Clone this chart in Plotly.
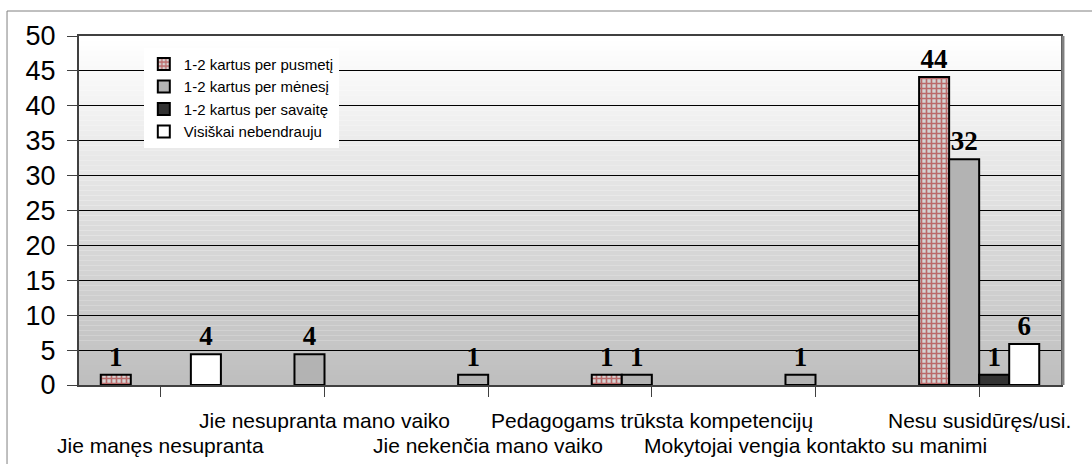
import plotly.graph_objects as go

categories = [
    "Jie manęs nesupranta",
    "Jie nesupranta mano vaiko",
    "Jie nekenčia mano vaiko",
    "Pedagogams trūksta kompetencijų",
    "Mokytojai vengia kontakto su manimi",
    "Nesu susidūręs/usi.",
]
series_names = [
    "1-2 kartus per pusmetį",
    "1-2 kartus per mėnesį",
    "1-2 kartus per savaitę",
    "Visiškai nebendrauju",
]
# percentages (labels shown rounded)
per_pusmeti = [1.47, None, None, 1.47, None, 44.12]
per_menesi = [None, 4.41, 1.47, 1.47, 1.47, 32.35]
per_savaite = [None, None, None, None, None, 1.47]
nebendrauju = [4.41, None, None, None, None, 5.88]
y_ticks = list(range(0, 51, 5))

series_values = [per_pusmeti, per_menesi, per_savaite, nebendrauju]
fill_colors = ["#d4d4d4", "#b3b3b3", "#333333", "#ffffff"]

fig = go.Figure()
for i, (name, vals) in enumerate(zip(series_names, series_values)):
    marker = dict(color=fill_colors[i], line=dict(color="black", width=2))
    if i == 0:
        marker["pattern"] = dict(shape="+", fgcolor="#a00000", bgcolor="#d4d4d4",
                                 size=5, solidity=0.55)
    fig.add_trace(go.Bar(
        x=categories, y=vals, name=name, marker=marker,
        legendgroup=name,
        texttemplate="%{y:.0f}", textposition="outside", constraintext="none",
        textfont=dict(family="Liberation Serif", size=27, color="black", weight="bold"),
        cliponaxis=False,
    ))

# vertical grey gradient behind the plot area
n_strips = 70
for k in range(n_strips):
    t = k / (n_strips - 1)
    g = int(round(255 - (255 - 190) * t))
    fig.add_shape(type="rect", xref="x domain", yref="y domain",
                  x0=0, x1=1, y0=1 - (k + 1) / n_strips, y1=1 - k / n_strips,
                  fillcolor=f"rgb({g},{g},{g})", line=dict(width=0), layer="below")

# shadow at the right of plot area
fig.add_shape(type="line", xref="x domain", yref="y domain", x0=1.002, x1=1.002,
              y0=0, y1=1, line=dict(color="#808080", width=3))
# outer chart border
fig.add_shape(type="rect", xref="paper", yref="paper", x0=-0.0733, x1=1.2,
              y0=-0.5, y1=1.0716, line=dict(color="#808080", width=1))

# two-row category labels
for i, cat in enumerate(categories):
    fig.add_annotation(x=cat, xref="x", yref="paper",
                       y=-0.172 if i % 2 == 0 else -0.1003,
                       text=cat, showarrow=False, yanchor="middle",
                       font=dict(family="Liberation Sans", size=21, color="black"))

fig.update_layout(
    width=1092, height=464,
    margin=dict(l=79, r=31, t=36, b=79),
    paper_bgcolor="white",
    plot_bgcolor="rgba(0,0,0,0)",
    barmode="group", bargap=0.266, bargroupgap=0,
    font=dict(family="Liberation Sans", color="black"),
    showlegend=True,
    legend=dict(
        x=0.066, y=0.966, xanchor="left", yanchor="top",
        bgcolor="white", borderwidth=0, tracegroupgap=4,
        itemwidth=30, traceorder="normal",
        font=dict(family="Liberation Sans", size=15, color="black"),
    ),
    xaxis=dict(
        type="category", range=[-0.5, len(categories) - 0.5], autorange=False,
        showticklabels=False, ticks="outside", ticklen=10,
        tickcolor="#404040", showline=True, linecolor="#404040", linewidth=2,
        mirror=True, showgrid=False, automargin=False,
    ),
    yaxis=dict(
        range=[0, 50], autorange=False, tickvals=y_ticks, ticks="outside", ticklen=10,
        tickcolor="#404040", showline=True, linecolor="#404040", linewidth=2,
        mirror=True, showgrid=True, gridcolor="black", gridwidth=1,
        zeroline=False, ticklabelstandoff=6, automargin=False,
        tickfont=dict(family="Liberation Sans", size=27, color="black"),
    ),
)

fig.write_html("out.html", config={"displayModeBar": False},
               post_script="document.body.style.margin='0px';")
